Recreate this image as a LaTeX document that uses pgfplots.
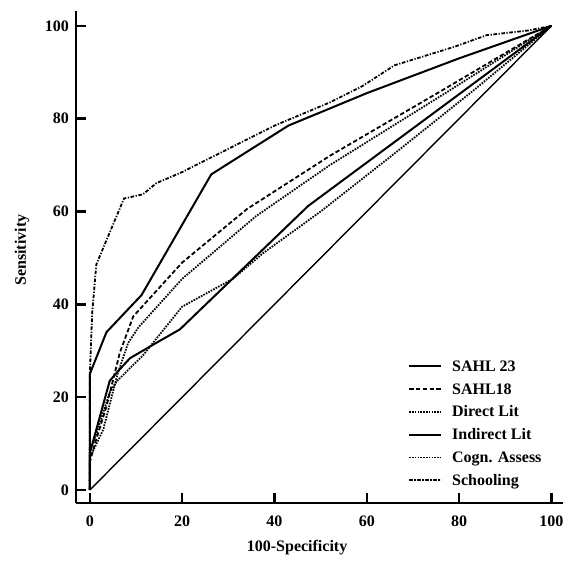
\documentclass[border=0pt]{standalone}
\usepackage{fontspec}
\setmainfont{Liberation Serif}
\usepackage{pgfplots}
\pgfplotsset{compat=1.18}

\begin{document}
\begin{tikzpicture}
  \begin{axis}[
    scale only axis,
    width=243.5pt, height=246pt,
    xmin=-3, xmax=102.5,
    ymin=-2.8, ymax=103.2,
    axis lines=left,
    axis line style={-, line width=1.4pt},
    tick align=inside,
    major tick length=5pt,
    tick style={line width=1.3pt, black},
    xtick={0,20,...,100}, ytick={0,20,...,100},
    font=\fontsize{8}{9.6}\selectfont\bfseries,
    /pgf/number format/assume math mode=true,
    xticklabel style={yshift=-3pt},
    xlabel={100-Specificity},
    ylabel={Sensitivity},
    xlabel style={at={(axis description cs:0.454,-0.0915)}, anchor=center},
    ylabel style={at={(axis description cs:-0.111,0.514)}, anchor=center},
    legend cell align=left,
    legend image code/.code={\draw[#1] (0pt,0pt) -- (16pt,0pt);},
    legend style={draw=none, fill=none, inner sep=0pt, outer sep=0pt,
      at={(rel axis cs:0.682,0.296)}, anchor=north west,
      row sep=2.4pt, column sep=5pt,
      nodes={inner sep=0pt, text height=7pt, text depth=2pt},
      font=\fontsize{8}{9.6}\selectfont\bfseries},
    every axis plot/.append style={black},
  ]
    \coordinate (ll) at (rel axis cs:0,0);
    \coordinate (ur) at (rel axis cs:1,1);
    % SAHL 23
    \addplot[solid, line width=1pt] coordinates {
      (0,0) (0,25) (3.6,34) (11.2,42) (26.3,68) (43,78.5) (60,85.5) (80,93) (100,100)};
    \addlegendentry{SAHL 23}
    % SAHL18
    \addplot[line width=0.9pt, dash pattern=on 2.2pt off 1.2pt] coordinates {
      (0,0) (0,6) (1.1,10) (3.6,18) (6.5,29.6) (9.4,37.4) (20,49) (34,60.5) (52,72) (77,86.5) (100,100)};
    \addlegendentry{SAHL18}
    % Direct Lit
    \addplot[line width=0.9pt, dash pattern=on 0.8pt off 0.6pt] coordinates {
      (0,0) (0,7) (2.9,13) (6,25) (8.3,31.7) (10.5,35) (20,45.5) (36,59) (52,70) (77,85.5) (100,100)};
    \addlegendentry{Direct Lit}
    % Indirect Lit
    \addplot[solid, line width=1pt] coordinates {
      (0,0) (0,8) (1.4,13) (4.3,23.5) (6.1,25.6) (8.7,28.4) (13.7,31.3) (19.5,34.6) (47.3,61.2) (100,100)};
    \addlegendentry{Indirect Lit}
    % Cogn. Assess
    \addplot[line width=0.9pt, dash pattern=on 0.8pt off 0.6pt] coordinates {
      (0,0) (0,9) (0.7,10) (4.3,21) (5.8,23.4) (11.5,29) (20,39.5) (31,45.5) (37.5,51) (50,60) (66,72.5) (83,86) (100,100)};
    \addlegendentry{Cogn. Assess}
    % Schooling
    \addplot[line width=0.9pt, dash pattern=on 1.8pt off 0.8pt on 0.6pt off 0.8pt] coordinates {
      (0,0) (0,8) (0,25) (0.5,38) (1.4,48.6) (7.4,62.8) (11.5,63.7) (14.4,66.1) (20,68.5) (30,73.5)
      (40,78.5) (52,83.5) (59,87) (66,91.5) (79,95.5) (86,98) (95,99) (100,100)};
    \addlegendentry{Schooling}
    % reference diagonal
    \addplot[solid, line width=0.7pt, forget plot] coordinates {(0,0) (100,100)};
  \end{axis}
  \pgfresetboundingbox
  \useasboundingbox ([shift={(-38pt,-29.5pt)}]ll) rectangle ([shift={(0pt,5.5pt)}]ur);
\end{tikzpicture}
\end{document}
